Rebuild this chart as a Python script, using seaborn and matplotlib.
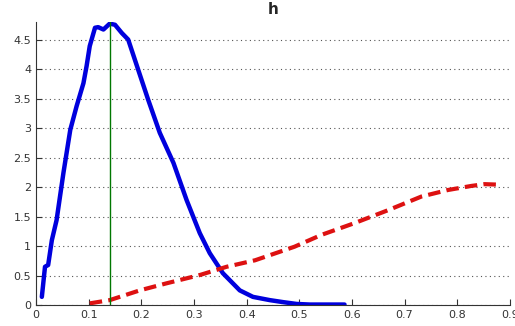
import matplotlib
matplotlib.use("Agg")
import matplotlib.pyplot as plt
import pandas as pd
import seaborn as sns

# blue density curve
blue_x = [0.011, 0.017, 0.023, 0.030, 0.039, 0.052, 0.065, 0.077, 0.090, 0.096,
          0.102, 0.112, 0.118, 0.128, 0.140, 0.150, 0.163, 0.175, 0.191, 0.213,
          0.235, 0.261, 0.286, 0.311, 0.330, 0.355, 0.387, 0.412, 0.444,
          0.470, 0.495, 0.520, 0.586]
blue_y = [0.14, 0.65, 0.68, 1.10, 1.44, 2.24, 2.97, 3.37, 3.76, 4.05,
          4.39, 4.70, 4.71, 4.67, 4.77, 4.75, 4.61, 4.50, 4.07, 3.48,
          2.92, 2.41, 1.78, 1.22, 0.88, 0.54, 0.25, 0.14, 0.085,
          0.05, 0.02, 0.01, 0.01]

# red dashed curve
red_x = [0.102, 0.140, 0.197, 0.248, 0.311, 0.362, 0.416, 0.491, 0.542, 0.605,
         0.669, 0.732, 0.782, 0.827, 0.852, 0.884]
red_y = [0.03, 0.085, 0.25, 0.37, 0.51, 0.65, 0.76, 0.99, 1.19, 1.39,
         1.61, 1.84, 1.95, 2.02, 2.05, 2.04]

vline_x = 0.14
x_ticks = [0, 0.1, 0.2, 0.3, 0.4, 0.5, 0.6, 0.7, 0.8, 0.9]
y_ticks = [0, 0.5, 1, 1.5, 2, 2.5, 3, 3.5, 4, 4.5]

sns.set_style("white")

fig = plt.figure(figsize=(5.15, 3.26), dpi=100)
ax = fig.add_axes([0.07, 0.064, 0.92, 0.869])

blue = pd.DataFrame({"x": blue_x, "y": blue_y})
red = pd.DataFrame({"x": red_x, "y": red_y})

sns.lineplot(data=blue, x="x", y="y", ax=ax, color="#0000dd", linewidth=3.2,
             sort=False, estimator=None)
sns.lineplot(data=red, x="x", y="y", ax=ax, color="#dd1111", linewidth=3,
             linestyle=(0, (3, 1.5)), sort=False, estimator=None)
ax.axvline(vline_x, color="#007700", linewidth=1)

ax.set_xlim(0, 0.9)
ax.set_ylim(0, 4.8)
ax.set_xticks(x_ticks)
ax.set_xticklabels([f"{t:g}" for t in x_ticks])
ax.set_yticks(y_ticks)
ax.set_yticklabels([f"{t:g}" for t in y_ticks])
ax.yaxis.grid(True, linestyle=(0, (1, 3)), color="#555555", linewidth=0.8)
ax.set_axisbelow(True)
ax.tick_params(direction="in", length=4, labelsize=8, colors="#333333",
               bottom=True, left=True)
for side in ["top", "right"]:
    ax.spines[side].set_visible(False)
for side in ["left", "bottom"]:
    ax.spines[side].set_color("#333333")
ax.set_xlabel("")
ax.set_ylabel("")
ax.set_title("h", fontsize=11, fontweight="bold", pad=6)

fig.savefig("out.png", dpi=100)
